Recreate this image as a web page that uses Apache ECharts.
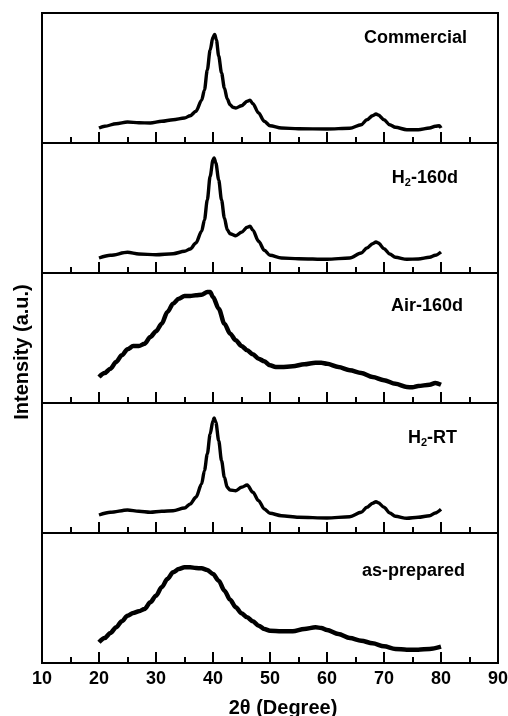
<!DOCTYPE html>
<html>
<head>
<meta charset="utf-8">
<script src="https://cdn.jsdelivr.net/npm/echarts@6/dist/echarts.min.js"></script>
<style>
html,body{margin:0;padding:0;background:#fff;}
#chart{width:508px;height:716px;}
</style>
</head>
<body>
<div id="chart"></div>
<script>
// ---- data (intensity in arbitrary units, per panel) ----
var xTicks = [10, 20, 30, 40, 50, 60, 70, 80, 90];
var panelNames = ['Commercial', 'H2-160d', 'Air-160d', 'H2-RT', 'as-prepared'];

var commercialX = [20,21,23,25,27,29,31,33,35,36,37,38,38.5,39,39.5,40,40.3,40.6,41,41.5,42,42.5,43,43.5,44,45,46,46.5,47,48,49,50,52,55,60,64,66,67,68,68.6,69,70,71,72,74,76,78,79,79.7,80];
var commercialY = [15,16.7,19.3,21,20.3,20,21.7,23.3,25,27.3,31.7,42.7,53,73,93,106,108.5,103,87,70,55,44,38.3,35.7,35,37.3,41.7,42.7,39.3,30,21.7,17.3,15,14.3,14,14.7,18.3,23.3,27.3,29,28,23.3,18.3,15.7,13.3,13.3,15,16.7,17.3,15];

var h2160dX = [20,22,25,27,30,33,35,36,37,38,38.5,39,39.5,40,40.2,40.5,41,41.5,42,42.5,43,44,45,46,46.5,47,48,49,50,52,55,60,64,66,67,68,68.6,69,70,71,72,74,76,78,79,80];
var h2160dY = [15,17.7,20.7,19,18.3,19.3,21.7,24,30,41.7,53,73,96.7,113,115,110,93,73,55,43.3,39.3,37.3,40.7,45.7,46.7,42.7,31.7,22.7,17.7,15,14.3,13.7,15,20,25,29.3,31,30,24.3,19,15.7,13.7,14,15.7,17.7,21];

var air160dX = [20,21,22,23,24,25,26,27,28,29,30,31,32,33,34,35,36,37,38,39,39.5,40,41,42,43,44,45,46,47,48,49,50,51,52,54,56,58,59,60,62,64,66,68,70,72,74,75,76,78,79,80];
var air160dY = [26,30,34.3,41,47.7,53.7,57,57,59.3,66,71.7,79.3,91,99.3,104.3,107,107,107.7,108.3,111,111,106,94.3,79.3,69.3,62.7,57,52.7,48.7,44.3,41.7,37.7,36,36,36.7,38.7,40.3,40.3,39.3,36,32.7,30,26,22.7,19.3,16,15.7,17,18.3,20,18.3];

var h2rtX = [20,22,25,27,29,31,33,35,36,37,38,38.5,39,39.5,40,40.2,40.5,41,41.5,42,42.5,43,44,45,46,47,48,49,50,52,55,60,64,66,67,68,68.6,69,70,71,72,74,76,78,79,80];
var h2rtY = [18,20.7,23,21.7,20.7,21.7,22.3,25,29,35.7,49,62.3,79,99,112.3,115,110.7,92.3,72.3,55.7,45.7,43,42.3,45.7,48,40.7,32.3,24,19.7,17.3,15.7,15,16.3,20.7,25.7,29.7,31.3,30.3,25.7,20,16.7,14.7,15.7,17.3,20,23.7];

var asPreparedX = [20,21,22,23,24,25,26,27,28,29,30,31,32,33,34,35,36,37,38,39,40,41,42,43,44,45,46,47,48,49,50,52,54,56,58,59,60,62,64,66,68,70,72,74,76,78,80];
var asPreparedY = [20.7,25,30,35.7,41.7,47.3,50,51.7,54,60.7,67.3,75.7,84,90.7,94,95.7,95.7,95,94.7,93,89,82.3,72.3,63.3,55.7,49.7,45.7,41.7,37.3,34,32.3,31.7,31.7,34,35.7,35,33,29,25,22.3,19.7,16.7,14,13.3,13.3,14,16.3];

var panelsX = [commercialX, h2160dX, air160dX, h2rtX, asPreparedX];
var panelsY = [commercialY, h2160dY, air160dY, h2rtY, asPreparedY];

// ---- layout ----
var tops = [13, 143, 273, 403, 533];
var panelH = 130;
var font = '"Liberation Sans", Arial, sans-serif';

var grids = [], xAxes = [], yAxes = [], series = [];
for (var i = 0; i < 5; i++) {
  grids.push({left: 42, width: 456, top: tops[i], height: panelH, show: true,
    containLabel: false, outerBoundsMode: 'none',
    borderColor: '#000', borderWidth: 2, backgroundColor: 'transparent'});
  var last = (i === 4);
  xAxes.push({
    gridIndex: i, type: 'value', min: xTicks[0], max: xTicks[xTicks.length - 1], interval: 10,
    axisLine: {show: true, lineStyle: {color: '#000', width: 2}},
    axisTick: {show: true, inside: true, length: 11, lineStyle: {color: '#000', width: 2}},
    minorTick: {show: true, splitNumber: 2, length: 6, lineStyle: {color: '#000', width: 2}},
    splitLine: {show: false},
    axisLabel: {show: last, color: '#000', fontSize: 18, fontWeight: 'bold', fontFamily: font, margin: 7,
      showMinLabel: true, showMaxLabel: true, hideOverlap: false}
  });
  yAxes.push({gridIndex: i, type: 'value', min: 0, max: panelH, show: false});
  var pts = panelsX[i].map(function (x, k) { return [x, panelsY[i][k]]; });
  var noisy = (i === 2 || i === 4);
  series.push({
    type: 'line', xAxisIndex: i, yAxisIndex: i, data: pts, symbol: 'none',
    smooth: 0.3, smoothMonotone: 'x',
    lineStyle: {color: '#000', width: noisy ? 4.5 : 3.4}, animation: false
  });
}

function label(text, right, y) {
  return {type: 'text', right: 508 - right, top: y - 11,
    style: {text: text, fill: '#000', font: 'bold 18px ' + font,
      rich: {n: {fontSize: 18, fontWeight: 'bold', fontFamily: font, fill: '#000'},
             s: {fontSize: 11, fontWeight: 'bold', fontFamily: font, fill: '#000', padding: [10, 0, 0, 0]}}}};
}

var graphics = [
  label('{n|Commercial}', 467, 40),
  label('{n|H}{s|2}{n|-160d}', 458, 180),
  label('{n|Air-160d}', 463, 308),
  label('{n|H}{s|2}{n|-RT}', 457, 440),
  label('{n|as-prepared}', 465, 573),
  {type: 'text', x: 283, y: 708,
    style: {text: '2\u03b8 (Degree)', fill: '#000', font: 'bold 20px ' + font, textAlign: 'center', textVerticalAlign: 'middle'}},
  {type: 'text', x: 22, y: 352, rotation: Math.PI / 2,
    style: {text: 'Intensity (a.u.)', fill: '#000', font: 'bold 20px ' + font, textAlign: 'center', textVerticalAlign: 'middle'}}
];

var chart = echarts.init(document.getElementById('chart'), null, {renderer: 'canvas'});
chart.setOption({
  animation: false,
  backgroundColor: '#fff',
  grid: grids, xAxis: xAxes, yAxis: yAxes, series: series,
  graphic: graphics
});
</script>
</body>
</html>
